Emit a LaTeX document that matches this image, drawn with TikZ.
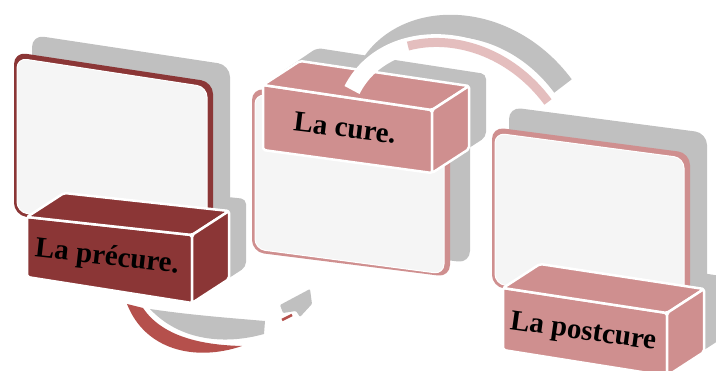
\documentclass[tikz,border=0pt]{standalone}
\usepackage{fontspec}
\setmainfont{Liberation Serif}
\definecolor{dred}{HTML}{8B3636}
\definecolor{lred}{HTML}{CF8F8F}
\definecolor{shd}{HTML}{C0C0C0}
\definecolor{pfill}{HTML}{F5F5F5}
\definecolor{arcred}{HTML}{B5504C}
\definecolor{arcpink}{HTML}{E4BEBE}
\tikzset{
  shadowshape/.style={fill=shd, rounded corners=12pt},
  framestyle/.style={rounded corners=12pt},
  innerstyle/.style={fill=pfill, draw=white, line width=1pt, rounded corners=10pt},
  boxface/.style={draw=white, line width=2.5pt, line join=round, rounded corners=2pt},
  boxshadow/.style={fill=shd, rounded corners=5pt},
  boxtext/.style={font=\bfseries\fontsize{29}{29}\selectfont, text=black, inner sep=0pt},
}
\begin{document}
\begin{tikzpicture}[x=1pt,y=-1pt]
\useasboundingbox (0,0) rectangle (716,371);

% ---------- shadows ----------
% panels
\fill[shadowshape] (32,35) -- (230,65) -- (230,228) -- (32,198) -- cycle;
\fill[shadowshape] (272,74) -- (470,99) -- (470,263) -- (272,238) -- cycle;
\fill[shadowshape] (509,107) -- (707,133) -- (707,290) -- (509,267) -- cycle;
% boxes
\fill[boxshadow] (44,265) -- (44,205) -- (81,181) -- (246,199) -- (246,267) -- (209,291) -- cycle;
\fill[boxshadow] (280,138) -- (280,73) -- (317,48) -- (486,74) -- (486,137) -- (449,161) -- cycle;
\fill[boxshadow] (520,338) -- (520,276) -- (557,251) -- (721,276) -- (721,339) -- (684,363) -- cycle;
% top arc shadow
\draw[shd, line width=22pt] (367,73) .. controls (400,8) and (505,8) .. (563,86);

% ---------- panels ----------
\fill[dred, framestyle] (14,52) -- (213,82) -- (213,245) -- (14,215) -- cycle;
\fill[innerstyle] (17,58) -- (207,87) -- (207,242) -- (17,212) -- cycle;

\fill[lred, framestyle] (252,88) -- (450,113) -- (450,277) -- (252,252) -- cycle;
\fill[innerstyle] (255,94) -- (444,118) -- (444,274) -- (255,249) -- cycle;

\fill[lred, framestyle] (492,127) -- (690,153) -- (690,310) -- (492,287) -- cycle;
\fill[innerstyle] (495,133) -- (684,158) -- (684,307) -- (495,284) -- cycle;

% ---------- bottom arrow ----------
\coordinate (ba1) at (127,304);
\coordinate (ba2) at (242,346);
\fill[arcred] (ba1) .. controls (145,350) and (195,362) .. (ba2)
  .. controls (200,345) and (162,336) .. (143,308) -- cycle;
\fill[shd] (150,309) .. controls (190,315) and (230,318) .. (265,321)
  -- (264,334) .. controls (225,345) and (180,341) .. (150,309) -- cycle;
\fill[shd, rounded corners=1pt] (280,305) -- (310,289) -- (312,304) -- (300,317) -- (296,311) -- (283,313) -- cycle;
\draw[arcred, line width=2.5pt] (282,320) -- (292,315);

% ---------- boxes ----------
% précure
\filldraw[boxface, fill=dred] (27,217) -- (192,235) -- (192,303) -- (27,277) -- cycle;
\filldraw[boxface, fill=dred] (27,217) -- (64,193) -- (229,211) -- (192,235) -- cycle;
\filldraw[boxface, fill=dred] (192,235) -- (229,211) -- (229,279) -- (192,303) -- cycle;
\node[boxtext, rotate=-6.5] (tpre) at (107,258) {La précure.};

% cure
\filldraw[boxface, fill=lred] (263,85) -- (432,110) -- (432,173) -- (263,150) -- cycle;
\filldraw[boxface, fill=lred] (263,85) -- (300,61) -- (469,86) -- (432,110) -- cycle;
\filldraw[boxface, fill=lred] (432,110) -- (469,86) -- (469,149) -- (432,173) -- cycle;
\node[boxtext, rotate=-7] (tcure) at (345,128) {La cure.};

% postcure
\filldraw[boxface, fill=lred] (503,288) -- (667,313) -- (667,376) -- (503,350) -- cycle;
\filldraw[boxface, fill=lred] (503,288) -- (540,264) -- (704,289) -- (667,313) -- cycle;
\filldraw[boxface, fill=lred] (667,313) -- (704,289) -- (704,352) -- (667,376) -- cycle;
\node[boxtext, rotate=-8] (tpost) at (583,333) {La postcure};

% ---------- top arrow ----------
\coordinate (ta1) at (352,90);
\coordinate (ta2) at (548,102);
\draw[white, line width=17pt] (ta1) .. controls (385,25) and (490,25) .. (ta2);
\draw[arcpink, line width=9pt] (408,46.07) .. controls (452.7,34.2) and (510.3,51.25) .. (ta2);
\end{tikzpicture}
\end{document}
